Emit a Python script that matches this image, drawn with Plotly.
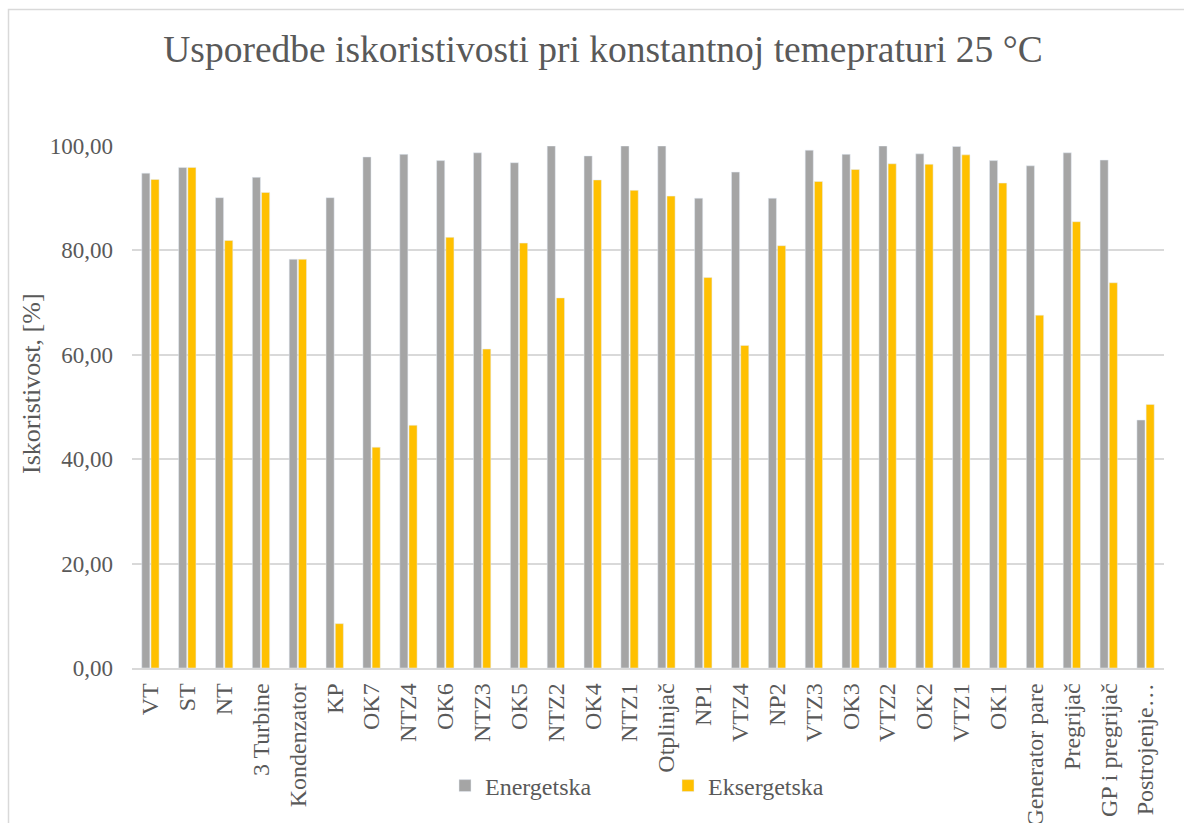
import plotly.graph_objects as go

categories = ["VT", "ST", "NT", "3 Turbine", "Kondenzator", "KP", "OK7", "NTZ4", "OK6", "NTZ3",
              "OK5", "NTZ2", "OK4", "NTZ1", "Otplinjač", "NP1", "VTZ4", "NP2", "VTZ3", "OK3",
              "VTZ2", "OK2", "VTZ1", "OK1", "Generator pare", "Pregrijač", "GP i pregrijač",
              "Postrojenje…"]

energetska = [94.8, 95.9, 90.1, 94.0, 78.3, 90.1, 97.9, 98.4, 97.2, 98.7,
              96.8, 100.0, 98.1, 100.0, 100.0, 90.0, 95.0, 90.0, 99.2, 98.4,
              100.0, 98.5, 99.9, 97.2, 96.2, 98.7, 97.3, 47.5]
eksergetska = [93.6, 95.9, 81.9, 91.1, 78.3, 8.5, 42.3, 46.5, 82.5, 61.1,
               81.4, 70.9, 93.5, 91.5, 90.4, 74.8, 61.8, 80.9, 93.2, 95.5,
               96.6, 96.5, 98.3, 92.9, 67.6, 85.5, 73.8, 50.5]

y_ticks = [0, 20, 40, 60, 80, 100]

FONT = "Liberation Serif, Times New Roman, serif"
TXT = "#595959"

fig = go.Figure()
fig.add_trace(go.Bar(name="Energetska", x=categories, y=energetska, marker_color="#A5A5A5"))
fig.add_trace(go.Bar(name="Eksergetska", x=categories, y=eksergetska, marker_color="#FFC000"))

L, R, T, B = 132, 20, 146, 155
W, H = 1184, 823
pw, ph = W - L - R, H - T - B

def px_x(x):
    return (x - L) / pw

def px_y(y):
    return (H - B - y) / ph

fig.update_layout(
    width=W, height=H,
    margin=dict(l=L, r=R, t=T, b=B, autoexpand=False),
    paper_bgcolor="white", plot_bgcolor="white",
    font=dict(family=FONT, color=TXT, size=22),
    title=dict(text="Usporedbe iskoristivosti pri konstantnoj temepraturi 25 °C",
               x=603 / W, xanchor="center", xref="container",
               y=1 - 49 / H, yanchor="middle", yref="container",
               font=dict(family=FONT, size=37.5, color=TXT)),
    separators=",.",
    barmode="group", bargap=0.5, bargroupgap=0.12,
    xaxis=dict(tickangle=-90, tickfont=dict(size=24, family=FONT, color=TXT),
               showgrid=False, showline=True, linecolor="#D9D9D9", linewidth=1.5,
               ticks="", automargin=False, ticklabelstandoff=4),
    yaxis=dict(range=[0, 100], tickvals=y_ticks, tickformat=".2f",
               tickfont=dict(size=23, family=FONT, color=TXT),
               showgrid=True, gridcolor="#D9D9D9", gridwidth=1.5,
               zeroline=False, showline=False, ticks="", ticklen=0,
               automargin=False, ticklabelstandoff=18),
    legend=dict(orientation="h", x=px_x(445), xanchor="left",
                y=px_y(786), yanchor="middle",
                font=dict(size=24, family=FONT, color=TXT),
                entrywidth=178, entrywidthmode="pixels",
                bgcolor="rgba(0,0,0,0)"),
    showlegend=True,
)

fig.add_annotation(text="Iskoristivost, [%]", textangle=-90,
                   x=px_x(31), y=px_y(384), xref="paper", yref="paper",
                   showarrow=False, font=dict(size=26, family=FONT, color=TXT),
                   xanchor="center", yanchor="middle")

fig.add_shape(type="rect", xref="paper", yref="paper",
              x0=px_x(8.5), x1=px_x(1200), y0=px_y(840), y1=px_y(9.5),
              line=dict(color="#D9D9D9", width=1.5), fillcolor="rgba(0,0,0,0)",
              layer="below")

fig.write_html("out.html", config={"displayModeBar": False},
               post_script="document.body.style.margin='0';document.body.style.overflow='hidden';")
